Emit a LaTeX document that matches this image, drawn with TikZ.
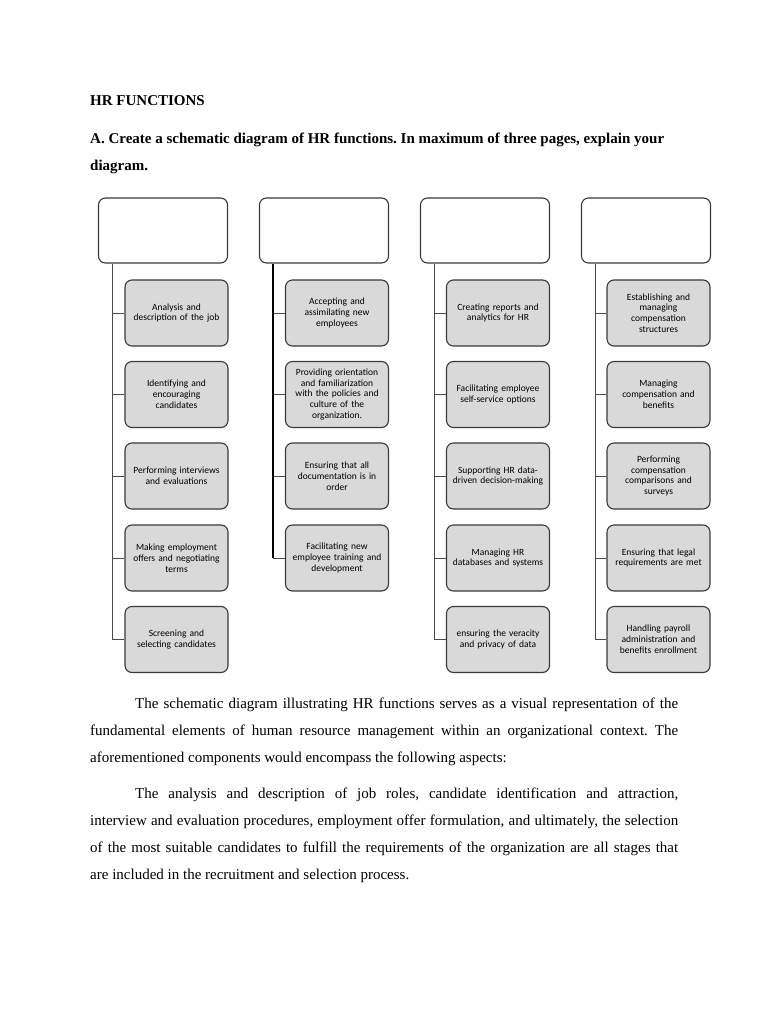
\documentclass[tikz,border=0pt]{standalone}
\usepackage{fontspec}
\setmainfont{Liberation Serif}
\newfontfamily\boxfont{Carlito}
\frenchspacing
\definecolor{boxline}{HTML}{3A3A3A}
\definecolor{boxfill}{HTML}{D9D9D9}
\definecolor{conngray}{HTML}{4A4A4A}
\begin{document}
\begin{tikzpicture}[x=1pt,y=-1pt,
  topbox/.style={draw=boxline, line width=1.1pt, rounded corners=7pt, fill=white,
    minimum width=129pt, minimum height=65pt, inner sep=0pt},
  childbox/.style={draw=boxline, line width=1.1pt, rounded corners=7pt, fill=boxfill,
    minimum width=103pt, minimum height=66pt, inner sep=0pt, text width=101pt, align=center,
    font=\boxfont\fontsize{9.5}{10.8}\selectfont},
  conn/.style={draw=conngray, line width=0.8pt},
  trunkthick/.style={draw=black, line width=1.6pt},
  headline/.style={anchor=base west, inner sep=0pt, font=\bfseries\fontsize{15}{18}\selectfont},
  bodyline/.style={anchor=base west, inner sep=0pt, font=\fontsize{15}{18}\selectfont}
]
\useasboundingbox (0,0) rectangle (768,1024);
\fill[white] (0,0) rectangle (768,1024);

% header
\node[headline] (h1) at (90,106) {HR FUNCTIONS};
\node[headline] (h2) at (90,144) {A. Create a schematic diagram of HR functions. In maximum of three pages, explain your};
\node[headline] (h3) at (90,171) {diagram.};

% top boxes
\node[topbox] (top1) at (163,230.5) {};
\node[topbox] (top2) at (324,230.5) {};
\node[topbox] (top3) at (485,230.5) {};
\node[topbox] (top4) at (646,230.5) {};

% trunk x positions
\coordinate (x1) at (112,0);
\coordinate (x2) at (273,0);
\coordinate (x3) at (434,0);
\coordinate (x4) at (595,0);

% column 1
\node[childbox] (c1-1) at (176.5,313) {Analysis and\\description of the job};
\node[childbox] (c1-2) at (176.5,394.5) {Identifying and\\encouraging\\candidates};
\node[childbox] (c1-3) at (176.5,476) {Performing interviews\\and evaluations};
\node[childbox] (c1-4) at (176.5,558) {Making employment\\offers and negotiating\\terms};
\node[childbox] (c1-5) at (176.5,639.5) {Screening and\\selecting candidates};

% column 2
\node[childbox] (c2-1) at (337,313) {Accepting and\\assimilating new\\employees};
\node[childbox] (c2-2) at (337,394.5) {Providing orientation\\and familiarization\\with the policies and\\culture of the\\organization.};
\node[childbox] (c2-3) at (337,476) {Ensuring that all\\documentation is in\\order};
\node[childbox] (c2-4) at (337,558) {Facilitating new\\employee training and\\development};

% column 3
\node[childbox] (c3-1) at (498,313) {Creating reports and\\analytics for HR};
\node[childbox] (c3-2) at (498,394.5) {Facilitating employee\\self-service options};
\node[childbox] (c3-3) at (498,476) {Supporting HR data-\\driven decision-making};
\node[childbox] (c3-4) at (498,558) {Managing HR\\databases and systems};
\node[childbox] (c3-5) at (498,639.5) {ensuring the veracity\\and privacy of data};

% column 4
\node[childbox] (c4-1) at (658.5,313) {Establishing and\\managing\\compensation\\structures};
\node[childbox] (c4-2) at (658.5,394.5) {Managing\\compensation and\\benefits};
\node[childbox] (c4-3) at (658.5,476) {Performing\\compensation\\comparisons and\\surveys};
\node[childbox] (c4-4) at (658.5,558) {Ensuring that legal\\requirements are met};
\node[childbox] (c4-5) at (658.5,639.5) {Handling payroll\\administration and\\benefits enrollment};

% horizontal connectors
\foreach \k in {1,...,5} {
  \draw[conn] (c1-\k.west -| x1) -- (c1-\k.west);
  \draw[conn] (c3-\k.west -| x3) -- (c3-\k.west);
  \draw[conn] (c4-\k.west -| x4) -- (c4-\k.west);
}
\foreach \k in {1,...,4} {
  \draw[conn] (c2-\k.west -| x2) -- (c2-\k.west);
}

% trunks
\draw[conn] (top1.south -| x1) -- (c1-5.west -| x1);
\draw[trunkthick] (top2.south -| x2) -- (c2-4.west -| x2);
\draw[conn] (top3.south -| x3) -- (c3-5.west -| x3);
\draw[conn] (top4.south -| x4) -- (c4-5.west -| x4);

% body text
\node[bodyline] (p1a) at (135,708) {\makebox[543pt][s]{The schematic diagram illustrating HR functions serves as a visual representation of the}};
\node[bodyline] (p1b) at (90,735) {\makebox[588pt][s]{fundamental elements of human resource management within an organizational context. The}};
\node[bodyline] (p1c) at (90,762) {aforementioned components would encompass the following aspects:};
\node[bodyline] (p2a) at (135,798) {\makebox[543pt][s]{The analysis and description of job roles, candidate identification and attraction,}};
\node[bodyline] (p2b) at (90,825) {\makebox[588pt][s]{interview and evaluation procedures, employment offer formulation, and ultimately, the selection}};
\node[bodyline] (p2c) at (90,852) {\makebox[588pt][s]{of the most suitable candidates to fulfill the requirements of the organization are all stages that}};
\node[bodyline] (p2d) at (90,879) {are included in the recruitment and selection process.};
\end{tikzpicture}
\end{document}
